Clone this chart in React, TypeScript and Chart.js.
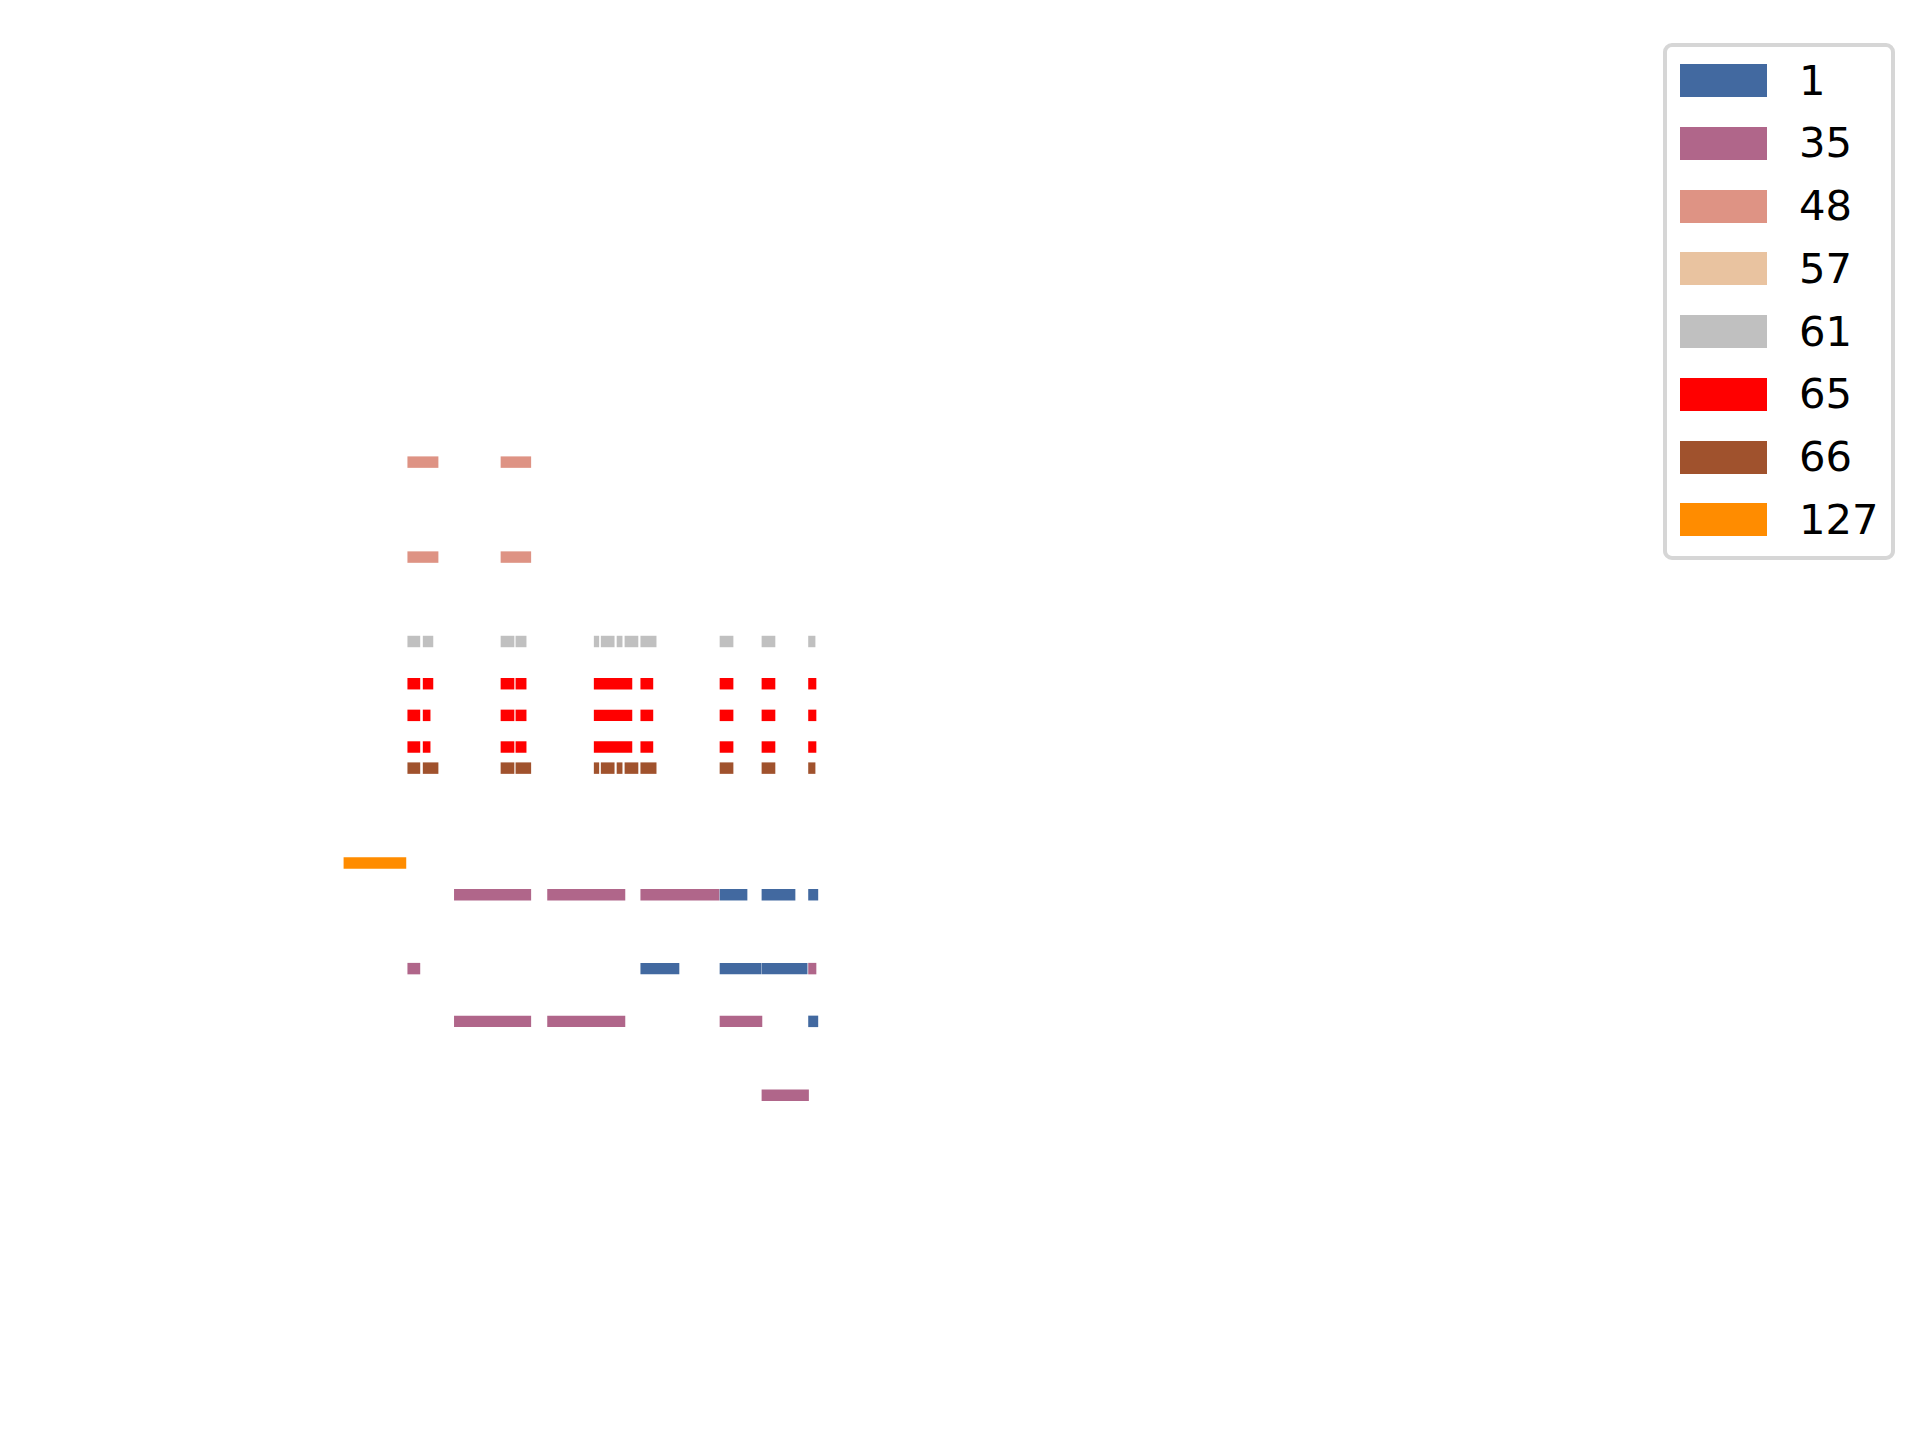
import React, { useEffect, useRef } from "react";
import { Chart, registerables } from "chart.js";

Chart.register(...registerables);

// Series (legend) labels and colours
const seriesLabels: string[] = ["1", "35", "48", "57", "61", "65", "66", "127"];
const seriesColors: string[] = [
  "#4269a0",
  "#b0668a",
  "#de9384",
  "#e9c3a0",
  "#c0c0c0",
  "#ff0000",
  "#a0522d",
  "#ff8c00",
];

// Each bar: [row, start, end]
const bars1: number[][] = [
  [41, 103, 108.8], [41, 112, 119.1], [41, 122, 124],
  [48, 86, 94.2], [48, 103, 111.8], [48, 112, 121.7],
  [53, 122, 124],
];
const bars35: number[][] = [
  [41, 46, 62.4], [41, 66, 82.6], [41, 86, 102.8],
  [48, 36, 38.6], [48, 122, 123.6],
  [53, 46, 62.4], [53, 66, 82.6], [53, 103, 112],
  [60, 112, 122],
];
const bars48: number[][] = [
  [0, 36, 42.5], [0, 56, 62.4],
  [9, 36, 42.5], [9, 56, 62.4],
];
const bars57: number[][] = [];
const bars61: number[][] = [
  [17, 36, 38.6], [17, 39.3, 41.4], [17, 56, 58.8], [17, 59.2, 61.4],
  [17, 76, 77], [17, 77.5, 80.3], [17, 80.9, 82], [17, 82.6, 85.4], [17, 86, 89.3],
  [17, 103, 105.8], [17, 112, 114.8], [17, 122, 123.4],
];
const bars65: number[][] = [
  [21, 36, 38.6], [21, 39.3, 41.4], [21, 56, 58.8], [21, 59.2, 61.4],
  [21, 76, 84.1], [21, 86, 88.6], [21, 103, 105.8], [21, 112, 114.8], [21, 122, 123.6],
  [24, 36, 38.6], [24, 39.3, 40.8], [24, 56, 58.8], [24, 59.2, 61.4],
  [24, 76, 84.1], [24, 86, 88.6], [24, 103, 105.8], [24, 112, 114.8], [24, 122, 123.6],
  [27, 36, 38.6], [27, 39.3, 40.8], [27, 56, 58.8], [27, 59.2, 61.4],
  [27, 76, 84.1], [27, 86, 88.6], [27, 103, 105.8], [27, 112, 114.8], [27, 122, 123.6],
];
const bars66: number[][] = [
  [29, 36, 38.6], [29, 39.3, 42.5], [29, 56, 58.8], [29, 59.2, 62.4],
  [29, 76, 77], [29, 77.5, 80.3], [29, 80.9, 82], [29, 82.6, 85.4], [29, 86, 89.3],
  [29, 103, 105.8], [29, 112, 114.8], [29, 122, 123.4],
];
const bars127: number[][] = [[38, 22.3, 35.6]];

const seriesBars: number[][][] = [bars1, bars35, bars48, bars57, bars61, bars65, bars66, bars127];

// Axis ranges (axes hidden)
const xRange: number[] = [0, 319.3];
const yRange: number[] = [-27.4, 77.7];

const FONT = "'DejaVu Sans', 'Liberation Sans', sans-serif";

export default function App() {
  const canvasRef = useRef<HTMLCanvasElement | null>(null);

  useEffect(() => {
    const canvas = canvasRef.current;
    if (!canvas) return;
    const chart = new Chart(canvas, {
      type: "bar",
      data: {
        datasets: seriesLabels.map((label, i) => ({
          label,
          data: seriesBars[i].map(([row, start, end]) => ({ y: row, x: [start, end] })) as any,
          backgroundColor: seriesColors[i],
          borderWidth: 0,
          grouped: false,
          barThickness: 10.8,
        })),
      },
      options: {
        indexAxis: "y",
        responsive: false,
        animation: false,
        layout: { padding: { left: 240, right: 192, top: 173, bottom: 158 } },
        scales: {
          x: { type: "linear", min: xRange[0], max: xRange[1], display: false, offset: false },
          y: {
            type: "linear",
            min: yRange[0],
            max: yRange[1],
            reverse: true,
            display: false,
            offset: false,
            grid: { offset: false },
          },
        },
        plugins: {
          legend: { display: false },
          tooltip: { enabled: false },
        },
      },
    } as any);
    return () => chart.destroy();
  }, []);

  return (
    <div style={{ position: "absolute", left: 0, top: 0, width: 1920, height: 1440, background: "#fff" }}>
      <canvas ref={canvasRef} width={1920} height={1440} style={{ display: "block" }} />
      <div
        style={{
          position: "absolute",
          left: 1663,
          top: 43,
          width: 232,
          height: 517,
          boxSizing: "border-box",
          border: "4px solid #d6d6d6",
          borderRadius: 9,
          background: "#fff",
          fontFamily: FONT,
        }}
      >
        {seriesLabels.map((label, i) => (
          <div key={label}>
            <div
              style={{
                position: "absolute",
                left: 13,
                top: 17 + i * 62.75,
                width: 87,
                height: 33,
                background: seriesColors[i],
              }}
            />
            <div
              style={{
                position: "absolute",
                left: 132,
                top: 17 + i * 62.75 + 16.5 - 25,
                height: 50,
                lineHeight: "50px",
                fontSize: 41.7,
                color: "#000",
                whiteSpace: "nowrap",
              }}
            >
              {label}
            </div>
          </div>
        ))}
      </div>
    </div>
  );
}
